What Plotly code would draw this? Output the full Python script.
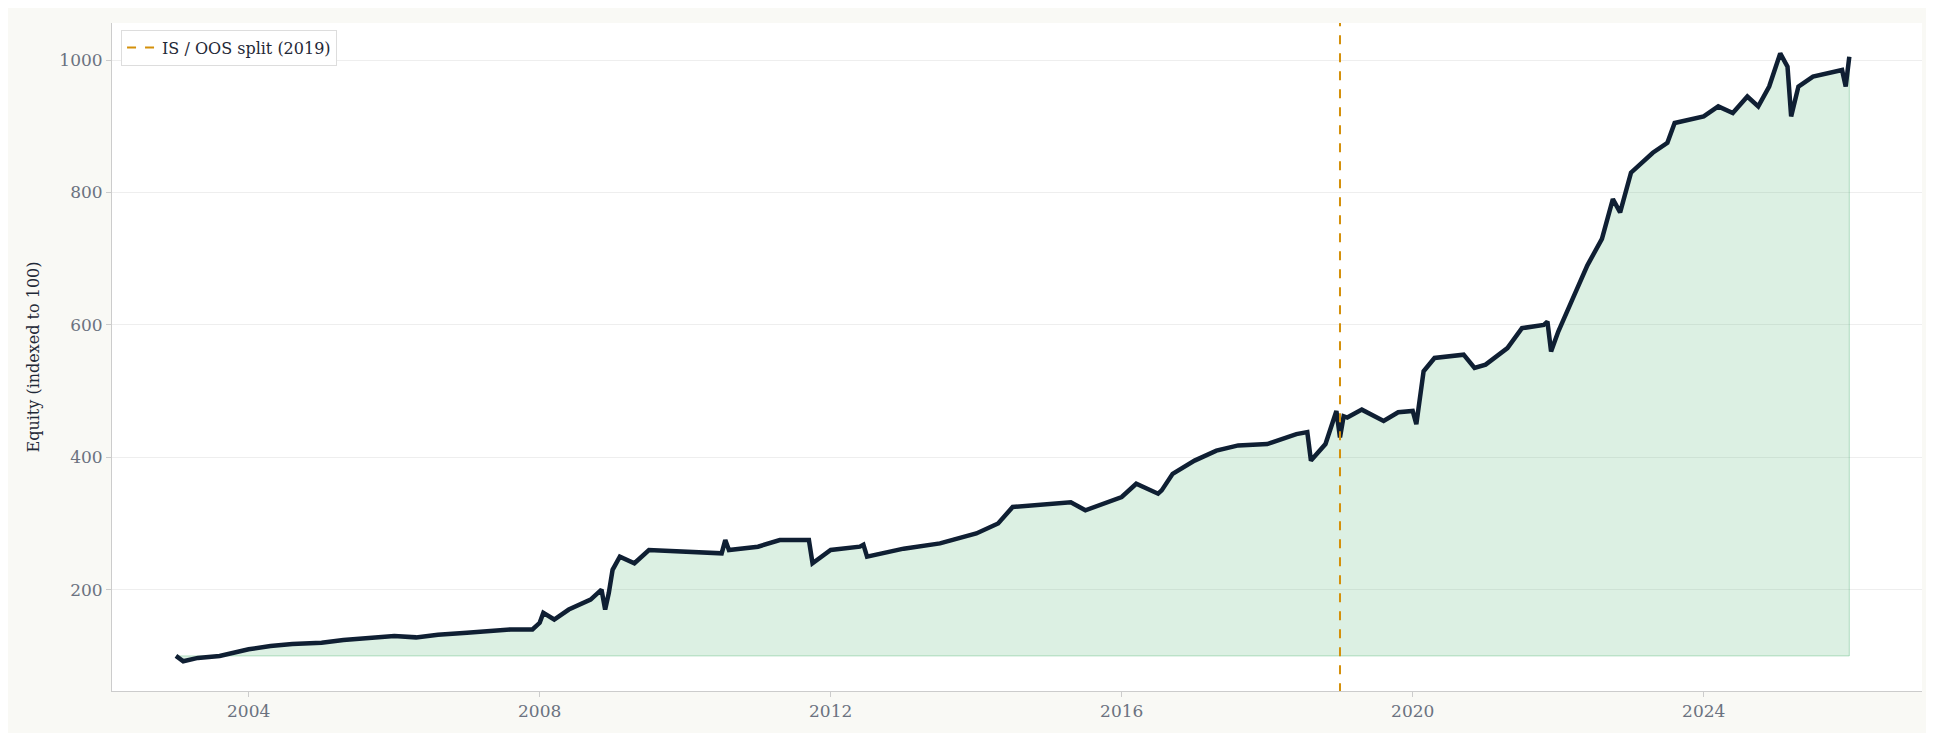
import pandas as pd
import plotly.graph_objects as go

# fractional years and equity readings (indexed to 100)
years = [2003.0, 2003.1, 2003.3, 2003.6, 2004.0, 2004.3, 2004.6, 2005.0, 2005.3, 2005.6,
         2006.0, 2006.3, 2006.6, 2007.0, 2007.3, 2007.6, 2007.9, 2008.0, 2008.05, 2008.2,
         2008.4, 2008.7, 2008.85, 2008.9, 2008.95, 2009.0, 2009.1, 2009.3, 2009.5, 2010.0,
         2010.5, 2010.55, 2010.6, 2011.0, 2011.3, 2011.7, 2011.75, 2012.0, 2012.4, 2012.45,
         2012.5, 2013.0, 2013.5, 2014.0, 2014.3, 2014.5, 2015.0, 2015.3, 2015.5, 2016.0,
         2016.2, 2016.5, 2016.55, 2016.7, 2017.0, 2017.3, 2017.6, 2018.0, 2018.4, 2018.55,
         2018.6, 2018.8, 2018.95, 2019.0, 2019.05, 2019.1, 2019.3, 2019.6, 2019.8, 2020.0,
         2020.05, 2020.15, 2020.3, 2020.7, 2020.85, 2021.0, 2021.3, 2021.5, 2021.8, 2021.85,
         2021.9, 2022.0, 2022.2, 2022.4, 2022.6, 2022.75, 2022.85, 2023.0, 2023.3, 2023.5,
         2023.6, 2024.0, 2024.2, 2024.4, 2024.6, 2024.75, 2024.9, 2025.05, 2025.15, 2025.2,
         2025.3, 2025.5, 2025.9, 2025.95, 2026.0]
equity = [100, 92, 97, 100, 110, 115, 118, 120, 124, 126,
          130, 128, 132, 135, 138, 140, 140, 150, 165, 155,
          170, 185, 200, 170, 195, 230, 250, 240, 260, 258,
          255, 275, 260, 265, 275, 275, 240, 260, 265, 268,
          250, 262, 270, 285, 300, 325, 330, 332, 320, 340,
          360, 345, 350, 375, 395, 410, 418, 420, 435, 438,
          395, 420, 470, 430, 462, 460, 472, 455, 468, 470,
          450, 530, 550, 555, 535, 540, 565, 595, 600, 605,
          560, 590, 640, 690, 730, 790, 770, 830, 860, 875,
          905, 915, 930, 920, 945, 930, 960, 1010, 990, 915,
          960, 975, 985, 960, 1005]

split_year = 2019


def to_date(y):
    year = int(y)
    start = pd.Timestamp(year=year, month=1, day=1)
    return start + pd.Timedelta(days=(y - year) * 365.25)


dates = [to_date(y) for y in years]

fig = go.Figure()

# shaded area between the curve and the 100 baseline
fig.add_trace(go.Scatter(
    x=dates + [dates[-1], dates[0]],
    y=equity + [100, 100],
    fill="toself",
    fillcolor="rgba(60,170,100,0.18)",
    line=dict(color="rgba(60,170,100,0.35)", width=1),
    mode="lines", showlegend=False, hoverinfo="skip",
))

fig.add_trace(go.Scatter(
    x=dates, y=equity, mode="lines",
    line=dict(color="#0f1f33", width=4.5),
    showlegend=False,
))

split = pd.Timestamp(year=split_year, month=1, day=1)
fig.add_trace(go.Scatter(
    x=[split, split], y=[45, 1056], mode="lines",
    line=dict(color="#d4900a", width=2, dash="dash"),
    name=f"IS / OOS split ({split_year})",
))

font = "DejaVu Serif, serif"
fig.update_layout(
    width=1934, height=733,
    paper_bgcolor="#f9f9f5", plot_bgcolor="white",
    font=dict(family=font, size=17, color="#6b7280"),
    margin=dict(l=104, r=20, t=15, b=50),
    legend=dict(x=0.005, y=0.99, xanchor="left", yanchor="top",
                bgcolor="white", bordercolor="#dddddd", borderwidth=1,
                font=dict(size=16, color="#1f2937")),
    xaxis=dict(range=[to_date(2002.12), to_date(2027.0)], showgrid=False,
               tickvals=[pd.Timestamp(year=y, month=1, day=1) for y in range(2004, 2026, 4)],
               ticktext=[str(y) for y in range(2004, 2026, 4)],
               showline=True, linecolor="#cccccc", ticks="outside", ticklen=5, tickcolor="#cccccc"),
    yaxis=dict(range=[47, 1056], tickvals=[200, 400, 600, 800, 1000],
               gridcolor="#eeeeee", showline=True, linecolor="#cccccc",
               ticks="outside", ticklen=5, tickcolor="#cccccc", zeroline=False,
               title=dict(text="Equity (indexed to 100)", font=dict(size=16, color="#1f2937"))),
)

fig.write_html("out.html")
